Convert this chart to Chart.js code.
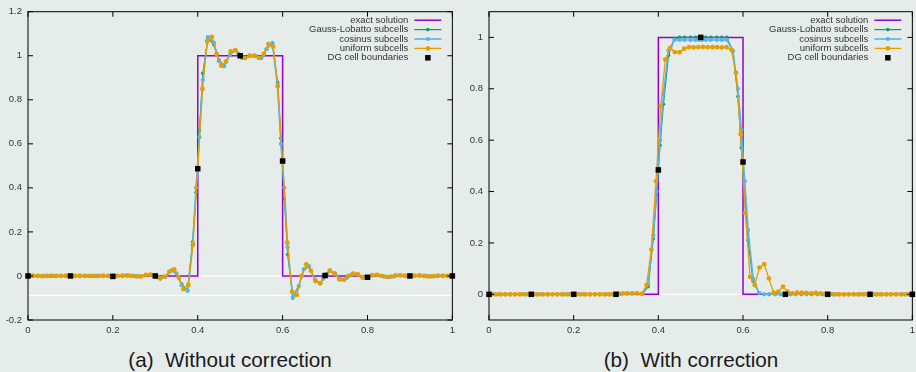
<!DOCTYPE html>
<html>
<head>
<meta charset="utf-8">
<script src="https://cdn.jsdelivr.net/npm/chart.js@4.4.1/dist/chart.umd.min.js"></script>
<style>
  body { margin: 0; background: #e5ecea; width: 916px; height: 372px; overflow: hidden; position: relative;
         font-family: "Liberation Sans", Arial, sans-serif; }
  canvas { position: absolute; top: 0; }
  #chartA { left: 0; }
  #chartB { left: 460px; }
  .caption { position: absolute; top: 350px; width: 400px; font-size: 20.7px; line-height: 20px;
             color: #1a1a1a; white-space: pre; text-align: center; }
</style>
</head>
<body>
<canvas id="chartA" width="460" height="345"></canvas>
<canvas id="chartB" width="460" height="345"></canvas>
<div class="caption" style="left:30px">(a)  Without correction</div>
<div class="caption" style="left:491px">(b)  With correction</div>
<script>
// tick labels
const xTicks = [0, 0.2, 0.4, 0.6, 0.8, 1];
const yTicksA = [-0.2, 0, 0.2, 0.4, 0.6, 0.8, 1, 1.2];
const yTicksB = [0, 0.2, 0.4, 0.6, 0.8, 1];

// exact solution (step)
const exactX = [0, 0.4, 0.4, 0.6, 0.6, 1];
const exactY = [0, 0, 1, 1, 0, 0];

// DG cell boundaries
const dgX = [0, 0.1, 0.2, 0.3, 0.4, 0.5, 0.6, 0.7, 0.8, 0.9, 1];
const dgA = [0, 0, -0.002, 0, 0.487, 1.0, 0.522, 0.002, -0.006, 0, 0];
const dgB = [0, 0, 0, 0, 0.484, 1.0, 0.515, 0, 0, 0, 0];

// subcell positions inside one DG cell (Gauss-Lobatto / cosinus)
const glOffsets = [0.004, 0.012, 0.024, 0.038, 0.05, 0.062, 0.076, 0.088, 0.096];

// (a) without correction
const uniformA = [
  0, 0.001, 0, -0.001, 0, 0.001, 0, 0, 0.001,
  0, 0, 0.001, 0, 0, 0, 0, 0.001, 0,
  0, 0, 0.001, 0.002, 0, -0.002, -0.002, 0.005, 0.006,
  0, -0.01, -0.003, 0.02, 0.03, -0.008, -0.06, -0.041, 0.145,
  0.487, 0.849, 1.065, 1.086, 1.008, 0.955, 0.974, 1.02, 1.025,
  1.0, 0.99, 1.0, 1.0, 0.99, 1.008, 1.053, 1.041, 0.864,
  0.52, 0.151, -0.071, -0.086, 0.0, 0.053, 0.024, -0.023, -0.033,
  0.0, 0.024, 0.012, -0.015, -0.017, 0.0, 0.01, 0.007, -0.008,
  -0.008, 0.004, 0.005, 0.0, -0.004, -0.003, 0.002, 0.003, 0.0,
  0, 0.001, 0.002, 0, -0.002, -0.001, 0.001, 0.001, 0,
  0
];
const glA = [
  0, 0, 0.001, 0, -0.001, 0, 0.001, 0, 0,
  0, 0, 0, 0.001, 0, 0, 0, 0, 0,
  0, 0, 0.001, 0.002, 0, -0.002, 0.002, 0.005, 0.004,
  -0.005, -0.012, -0.003, 0.025, 0.011, -0.036, -0.065, 0.155, 0.38,
  0.66, 0.92, 1.08, 1.05, 0.98, 0.955, 1.005, 1.025, 1.01,
  0.99, 0.99, 1.0, 0.998, 0.99, 1.03, 1.055, 0.88, 0.625,
  0.35, 0.098, -0.095, -0.045, 0.03, 0.042, -0.016, -0.033, -0.012,
  0.009, 0.024, 0.01, -0.016, -0.01, 0.006, 0.008, -0.006, -0.008,
  -0.005, 0.003, 0.005, -0.002, -0.005, -0.002, 0.003, 0.002, 0,
  0, 0.001, 0.002, 0, -0.002, 0, 0.001, 0, 0
];
const cosA = [
  0, 0, 0.001, 0, -0.001, 0, 0.001, 0, 0,
  0, 0, 0, 0.001, 0, 0, 0, 0, 0,
  0, 0, 0.001, 0.002, 0, -0.002, 0.002, 0.005, 0.004,
  -0.005, -0.012, -0.004, 0.025, 0.012, -0.042, -0.068, 0.14, 0.4,
  0.63, 0.89, 1.085, 1.06, 0.975, 0.952, 1.005, 1.025, 1.01,
  0.99, 0.99, 1.0, 0.997, 0.99, 1.03, 1.058, 0.86, 0.6,
  0.4, 0.13, -0.1, -0.048, 0.03, 0.045, -0.016, -0.034, -0.012,
  0.009, 0.024, 0.01, -0.016, -0.01, 0.006, 0.008, -0.006, -0.008,
  -0.005, 0.003, 0.005, -0.002, -0.005, -0.002, 0.003, 0.002, 0,
  0, 0.001, 0.002, 0, -0.002, 0, 0.001, 0, 0
];

// (b) with correction
const uniformB = [
  0, 0, 0, 0, 0, 0, 0, 0, 0,
  0, 0, 0, 0, 0, 0, 0, 0, 0,
  0, 0, 0, 0, 0, 0, 0, 0, 0,
  0.003, 0.004, 0.004, 0.004, 0.004, 0.002, 0.036, 0.174, 0.44,
  0.733, 0.914, 0.959, 0.943, 0.942, 0.956, 0.962, 0.961, 0.962,
  0.963, 0.962, 0.962, 0.962, 0.961, 0.962, 0.952, 0.862, 0.623,
  0.316, 0.068, 0.036, 0.104, 0.117, 0.062, 0.006, 0.01, 0.03,
  0.01, 0.004, 0.006, 0.006, 0.005, 0.004, 0.005, 0.004, 0.003,
  0.001, 0, 0, 0, 0, 0, 0, 0, 0,
  0, 0, 0, 0, 0, 0, 0, 0, 0
];
const glB = [
  0, 0, 0, 0, 0, 0, 0, 0, 0,
  0, 0, 0, 0, 0, 0, 0, 0, 0,
  0, 0, 0, 0, 0, 0, 0, 0, 0,
  0, 0.002, 0.003, 0.003, 0.003, 0.002, 0.03, 0.216, 0.39,
  0.58, 0.74, 0.93, 0.995, 1.0, 1.0, 1.0, 1.0, 1.0,
  1.0, 1.0, 1.0, 1.0, 1.0, 1.0, 0.945, 0.77, 0.57,
  0.37, 0.21, 0.05, 0.005, 0, 0, 0, 0, 0,
  0, 0, 0, 0, 0, 0, 0, 0, 0,
  0, 0, 0, 0, 0, 0, 0, 0, 0,
  0, 0, 0, 0, 0, 0, 0, 0, 0
];
const cosB = [
  0, 0, 0, 0, 0, 0, 0, 0, 0,
  0, 0, 0, 0, 0, 0, 0, 0, 0,
  0, 0, 0, 0, 0, 0, 0, 0, 0,
  0, 0.002, 0.003, 0.003, 0.003, 0.002, 0.04, 0.23, 0.4,
  0.6, 0.78, 0.95, 0.99, 0.99, 0.99, 0.99, 0.99, 0.99,
  0.99, 0.99, 0.99, 0.99, 0.99, 0.99, 0.95, 0.8, 0.64,
  0.44, 0.25, 0.06, 0.005, 0, 0, 0, 0, 0,
  0, 0, 0, 0, 0, 0, 0, 0, 0,
  0, 0, 0, 0, 0, 0, 0, 0, 0,
  0, 0, 0, 0, 0, 0, 0, 0, 0
];

// subcell grids
const xNonUni = [];
for (let c = 0; c < 10; c++) glOffsets.forEach(o => xNonUni.push(+(c / 10 + o).toFixed(4)));
const xUniA = uniformA.map((_, k) => k / 90);          // subcell boundaries
const xUniB = uniformB.map((_, k) => (k + 0.5) / 90);  // subcell centres

const pts = (xs, ys) => xs.map((x, i) => ({ x: x, y: ys[i] }));

const FONT = '"Liberation Sans", Arial, sans-serif';

// white reference lines, frame with inward ticks, and gnuplot-like legend
const gnuFrame = {
    id: "gnuFrame",
    beforeDatasetsDraw(chart, args, opts) {
        const { ctx, chartArea: a, scales: { y } } = chart;
        ctx.save();
        ctx.strokeStyle = "#ffffff";
        ctx.lineWidth = 1.2;
        (opts.whiteLines || []).forEach(v => {
            const py = y.getPixelForValue(v);
            ctx.beginPath();
            ctx.moveTo(a.left, py);
            ctx.lineTo(a.right, py);
            ctx.stroke();
        });
        ctx.restore();
    },
    afterDatasetsDraw(chart) {
        const { ctx, chartArea: a, scales: { x, y } } = chart;
        ctx.save();
        ctx.strokeStyle = "#000";
        ctx.lineWidth = 1;
        ctx.strokeRect(a.left, a.top, a.right - a.left, a.bottom - a.top);
        ctx.beginPath();
        x.ticks.forEach(t => {
            const px = x.getPixelForValue(t.value);
            ctx.moveTo(px, a.bottom); ctx.lineTo(px, a.bottom - 5);
            ctx.moveTo(px, a.top); ctx.lineTo(px, a.top + 5);
        });
        y.ticks.forEach(t => {
            const py = y.getPixelForValue(t.value);
            ctx.moveTo(a.left, py); ctx.lineTo(a.left + 5, py);
            ctx.moveTo(a.right, py); ctx.lineTo(a.right - 5, py);
        });
        ctx.stroke();

        // legend
        ctx.font = "9.5px " + FONT;
        ctx.textAlign = "right";
        ctx.textBaseline = "middle";
        chart.data.datasets.forEach((ds, i) => {
            const yy = a.top + 8.5 + i * 9.4;
            ctx.fillStyle = "#333";
            ctx.fillText(ds.label, a.right - 44, yy);
            const x1 = a.right - 38, x2 = a.right - 11, xm = (x1 + x2) / 2;
            if (ds.showLine !== false) {
                ctx.strokeStyle = ds.borderColor;
                ctx.lineWidth = ds.borderWidth;
                ctx.beginPath();
                ctx.moveTo(x1, yy); ctx.lineTo(x2, yy);
                ctx.stroke();
            }
            if (ds.pointRadius > 0) {
                ctx.fillStyle = ds.backgroundColor;
                if (ds.pointStyle === "rect") {
                    const s = ds.pointRadius * Math.SQRT1_2;
                    ctx.fillRect(xm - s, yy - s, 2 * s, 2 * s);
                } else {
                    ctx.beginPath();
                    ctx.arc(xm, yy, ds.pointRadius, 0, Math.PI * 2);
                    ctx.fill();
                }
            }
        });
        ctx.restore();
    }
};

function makeChart(canvasId, sets, yMin, yMax, yTicks, yWidth, padRight, whiteLines) {
    const tickStyle = { color: "#333", font: { family: FONT, size: 9.5 }, autoSkip: false, maxRotation: 0,
                        callback: v => String(v) };
    new Chart(document.getElementById(canvasId), {
        type: "line",
        data: {
            datasets: [
                { label: "exact solution", data: pts(exactX, exactY), borderColor: "#9400d3",
                  backgroundColor: "#9400d3", borderWidth: 1.5, pointRadius: 0, order: 4 },
                { label: "Gauss-Lobatto subcells", data: pts(xNonUni, sets.gl), borderColor: "#009e73",
                  backgroundColor: "#009e73", borderWidth: 1.2, pointRadius: 1.8, pointBorderWidth: 0, order: 3 },
                { label: "cosinus subcells", data: pts(xNonUni, sets.cos), borderColor: "#56b4e9",
                  backgroundColor: "#56b4e9", borderWidth: 1.6, pointRadius: 2.1, pointBorderWidth: 0, order: 2 },
                { label: "uniform subcells", data: pts(sets.xu, sets.uniform), borderColor: "#e69f00",
                  backgroundColor: "#e69f00", borderWidth: 1.3, pointRadius: 2.4, pointBorderWidth: 0, order: 1 },
                { label: "DG cell boundaries", data: pts(dgX, sets.dg), showLine: false, pointStyle: "rect",
                  pointRadius: 3.9, pointBorderWidth: 0, backgroundColor: "#000", borderColor: "#000",
                  order: 0, clip: false }
            ]
        },
        options: {
            responsive: false,
            animation: false,
            devicePixelRatio: 1,
            elements: { line: { tension: 0 } },
            layout: { padding: { top: 11, right: padRight, left: 0, bottom: 0 } },
            plugins: { legend: { display: false }, tooltip: { enabled: false },
                       gnuFrame: { whiteLines: whiteLines } },
            scales: {
                x: { type: "linear", min: 0, max: 1,
                     afterBuildTicks: s => { s.ticks = xTicks.map(v => ({ value: v })); },
                     afterFit: s => { s.height = 25; },
                     grid: { display: false, drawTicks: false }, border: { display: false },
                     ticks: Object.assign({ padding: 5 }, tickStyle) },
                y: { type: "linear", min: yMin, max: yMax,
                     afterBuildTicks: s => { s.ticks = yTicks.map(v => ({ value: v })); },
                     afterFit: s => { s.width = yWidth; },
                     grid: { display: false, drawTicks: false }, border: { display: false },
                     ticks: Object.assign({ padding: 6 }, tickStyle) }
            }
        },
        plugins: [gnuFrame]
    });
}

makeChart("chartA", { gl: glA, cos: cosA, uniform: uniformA, xu: xUniA, dg: dgA },
          -0.2, 1.2, yTicksA, 28, 7, [0, -0.088]);
makeChart("chartB", { gl: glB, cos: cosB, uniform: uniformB, xu: xUniB, dg: dgB },
          -0.1, 1.1, yTicksB, 29, 6, [0]);
</script>
</body>
</html>
